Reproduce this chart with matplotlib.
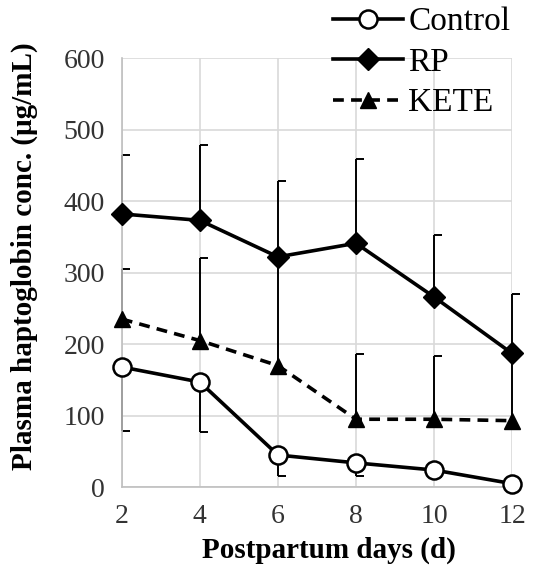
import matplotlib
matplotlib.use("Agg")
import matplotlib.pyplot as plt
from matplotlib.path import Path
import numpy as np

days = [2, 4, 6, 8, 10, 12]
control = [168, 147, 45, 34, 24, 5]
control_lower = [79, 77, 16, 16, 14, 0]
rp = [382, 373, 322, 341, 266, 187]
rp_upper = [465, 478, 428, 459, 353, 270]
kete = [235, 205, 170, 95, 95, 93]
kete_upper = [305, 320, 320, 186, 184, 190]
yticks = [0, 100, 200, 300, 400, 500, 600]

plt.rcParams['font.family'] = ['Liberation Serif', 'DejaVu Serif']

fig = plt.figure(figsize=(5.39, 5.80), dpi=100)
ax = fig.add_axes([0.226, 0.160, 0.724, 0.740])

cap = Path([(0, 0), (1, 0)], [Path.MOVETO, Path.LINETO])
elw = 1.4

def errs(x, y, e):
    for xi, yi, ei in zip(x, y, e):
        ax.plot([xi, xi], [yi, ei], color='black', lw=elw, zorder=2,
                solid_capstyle='butt', clip_on=False)
    ax.plot(x, e, linestyle='none', marker=cap, markersize=12, markeredgewidth=elw,
            color='black', zorder=2, clip_on=False)

errs(days, rp, rp_upper)
errs(days, kete, kete_upper)
errs(days, control, control_lower)

ax.plot(days, rp, color='black', lw=2.6, marker='D', markersize=11,
        markerfacecolor='black', label='RP', zorder=4, clip_on=False)
ax.plot(days, kete, color='black', lw=2.6, linestyle=(0, (3, 2)), marker='^', markersize=12,
        markerfacecolor='black', label='KETE', zorder=4, clip_on=False)
ax.plot(days, control, color='black', lw=2.6, marker='o', markersize=13,
        markerfacecolor='white', markeredgewidth=1.8, label='Control', zorder=5, clip_on=False)

ax.set_xlim(2, 12)
ax.set_ylim(0, 600)
ax.set_xticks(days)
ax.set_yticks(yticks)
ax.grid(True, color='#d9d9d9', lw=1.2)
ax.set_axisbelow(True)
for s in ['top', 'right']:
    ax.spines[s].set_visible(False)
for s in ['left', 'bottom']:
    ax.spines[s].set_color('#bfbfbf')
    ax.spines[s].set_linewidth(1.2)
ax.tick_params(length=0, labelsize=20, labelcolor='#333333')
ax.tick_params(axis='x', pad=12)
ax.tick_params(axis='y', pad=12)

ax.set_xlabel('Postpartum days (d)', fontsize=21, fontweight='bold')
ax.set_ylabel('Plasma haptoglobin conc. (μg/mL)', fontsize=21, fontweight='bold')
ax.xaxis.set_label_coords(0.531, -0.147, transform=ax.transAxes)
ax.xaxis.label.set_va('center')
ax.yaxis.set_label_coords(-0.249, 0.538, transform=ax.transAxes)
ax.yaxis.label.set_va('center')

h, l = ax.get_legend_handles_labels()
order = [2, 0, 1]
leg = ax.legend([h[i] for i in order], [l[i] for i in order], loc='upper right',
                bbox_to_anchor=(1.03, 1.15), frameon=False, fontsize=24,
                handlelength=2.1, handletextpad=0.15, labelspacing=0.3, borderaxespad=0)

fig.savefig('out.png', dpi=100)
